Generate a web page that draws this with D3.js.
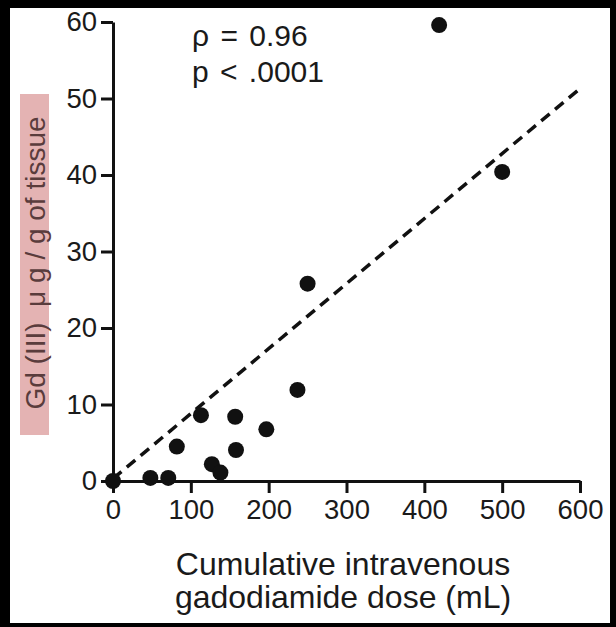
<!DOCTYPE html>
<html>
<head>
<meta charset="utf-8">
<script src="https://cdn.jsdelivr.net/npm/d3@7"></script>
<style>
  body { margin: 0; background: #000; }
  svg { display: block; }
  text { font-family: "Liberation Sans", Arial, sans-serif; }
</style>
</head>
<body>
<div id="chart"></div>
<script>
// values
const dose = [0, 48, 71, 82, 113, 127, 138, 157, 158, 197, 237, 250, 419, 500]
const gd = [0, 0.4, 0.4, 4.5, 8.6, 2.2, 1.1, 8.4, 4.05, 6.75, 11.9, 25.8, 59.6, 40.4]

const fitX = [0, 600]
const fitY = [0.3, 51.3]

const xTicks = [0, 100, 200, 300, 400, 500, 600]
const yTicks = [0, 10, 20, 30, 40, 50, 60]

const statLines = ["\u03c1 = 0.96", "p < .0001"]
const xTitle = ["Cumulative intravenous", "gadodiamide dose (mL)"]
const yTitle = "Gd (III)  \u03bc g / g of tissue"

const W = 616, H = 627

const svg = d3.select("#chart").append("svg")
    .attr("width", W)
    .attr("height", H)

svg.append("rect")
    .attr("width", W).attr("height", H)
    .attr("fill", "#000")
svg.append("rect")
    .attr("x", 10).attr("y", 8)
    .attr("width", 600).attr("height", 615)
    .attr("fill", "#fff")

const x = d3.scaleLinear().domain([0, 600]).range([113, 580])
const y = d3.scaleLinear().domain([0, 60]).range([481, 22])

// axes
svg.append("g")
    .attr("transform", "translate(0," + y(0) + ")")
    .call(d3.axisBottom(x).tickValues(xTicks).tickSize(12).tickSizeOuter(0).tickPadding(6))
svg.append("g")
    .attr("transform", "translate(" + x(0) + ",0)")
    .call(d3.axisLeft(y).tickValues(yTicks).tickSize(12).tickSizeOuter(0).tickPadding(4))

svg.selectAll(".domain, .tick line")
    .attr("stroke", "#111")
    .attr("stroke-width", 3)
svg.selectAll(".tick text")
    .attr("fill", "#1a1a1a")
    .style("font-size", "27.5px")
    .style("font-family", "Liberation Sans, Arial, sans-serif")

// fit line
const line = d3.line()
    .x(d => x(d[0]))
    .y(d => y(d[1]))
svg.append("path")
    .datum(d3.zip(fitX, fitY))
    .attr("d", line)
    .attr("fill", "none")
    .attr("stroke", "#111")
    .attr("stroke-width", 3.5)
    .attr("stroke-dasharray", "11,7")

// points
svg.selectAll("circle.pt")
    .data(d3.zip(dose, gd))
    .enter()
    .append("circle")
    .attr("class", "pt")
    .attr("cx", d => x(d[0]))
    .attr("cy", d => y(d[1]))
    .attr("r", 8)
    .attr("fill", "#111")

// stats
svg.selectAll("text.stat")
    .data(statLines)
    .enter()
    .append("text")
    .attr("class", "stat")
    .attr("x", 192)
    .attr("y", (d, i) => 46 + i * 36)
    .attr("fill", "#1a1a1a")
    .style("font-size", "30px")
    .style("word-spacing", "3px")
    .text(d => d)

// x title
svg.selectAll("text.xtitle")
    .data(xTitle)
    .enter()
    .append("text")
    .attr("class", "xtitle")
    .attr("x", 343)
    .attr("y", (d, i) => 575 + i * 33)
    .attr("text-anchor", "middle")
    .attr("fill", "#1a1a1a")
    .style("font-size", "32px")
    .text(d => d)

// y title with pink box
svg.append("rect")
    .attr("x", 20).attr("y", 94)
    .attr("width", 29).attr("height", 341)
    .attr("fill", "#e4b3b3")
svg.append("text")
    .attr("transform", "translate(45," + 263 + ") rotate(-90)")
    .attr("text-anchor", "middle")
    .attr("fill", "#5a3c3c")
    .style("font-size", "28px")
    .style("white-space", "pre")
    .text(yTitle)
</script>
</body>
</html>
